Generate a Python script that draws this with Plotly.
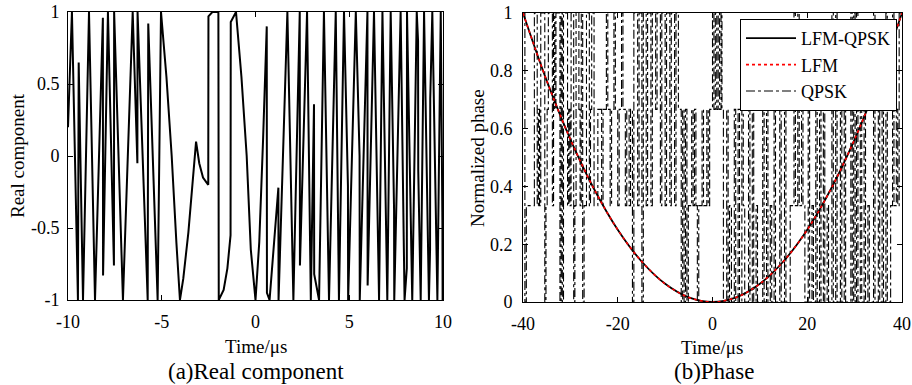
import plotly.graph_objects as go

# ---------------- data ----------------
# (a) real component: vertices of the waveform (time in us, value)
real_t = [-10.00, -9.79, -9.47, -9.43, -9.20, -8.88, -8.56, -8.14, -8.13, -7.87,
          -7.55, -7.54, -7.07, -6.55, -6.30, -6.29, -5.75, -5.72, -5.22, -5.04,
          -4.75, -4.47, -4.22, -4.03, -3.85, -3.58, -3.17, -3.00, -2.80, -2.52,
          -2.51, -2.30, -1.98, -1.96, -1.70, -1.50, -1.33, -1.32, -1.04, -0.75,
          -0.47, -0.25, 0.00, 0.20, 0.40, 0.60, 0.61, 0.75, 1.22, 1.23,
          1.70, 2.02, 2.36, 2.37, 2.75, 2.95, 3.12, 3.13, 3.39, 3.65,
          3.92, 4.28, 4.45, 4.72, 4.93, 4.94, 5.35, 5.55, 5.56, 5.97,
          5.98, 6.32, 6.59, 6.77, 7.03, 7.21, 7.39, 7.40, 7.74, 7.95,
          8.07, 8.08, 8.36, 8.60, 8.67, 8.68, 8.81, 8.99, 9.25, 9.31,
          9.32, 9.43, 9.70, 9.88, 9.97, 9.98, 10.00]
real_v = [0.20, 1.00, -1.00, 0.65, -1.00, 1.00, -1.00, 0.96, -0.83, 1.00,
          -0.76, 1.00, -1.00, 1.00, -0.05, 1.00, -1.00, 0.92, -1.00, 1.00,
          0.55, 0.00, -0.60, -1.00, -0.85, -0.53, 0.10, -0.05, -0.15, -0.20,
          0.97, 1.00, 1.00, -1.00, -0.93, -0.78, -0.55, 0.93, 1.00, 0.55,
          0.00, -0.65, -1.00, -0.60, 0.10, 0.90, -0.95, -1.00, -0.22, -1.00,
          1.00, -1.00, 1.00, -0.76, 1.00, -1.00, 0.36, -0.82, -1.00, 1.00,
          -1.00, 1.00, -1.00, 1.00, -0.21, -1.00, 1.00, 0.00, -1.00, 1.00,
          -0.90, 1.00, -1.00, 1.00, -1.00, 1.00, -0.37, -1.00, 1.00, -1.00,
          -0.78, 1.00, -1.00, 1.00, 0.80, -0.10, -1.00, 1.00, -1.00, -0.65,
          0.40, 1.00, -1.00, 1.00, -0.50, -1.00, -0.45]

# (b) phase: LFM normalized phase samples
lfm_t = [-40, -35, -30, -25, -20, -15, -10, -5, 0, 5, 10, 15, 20, 25, 30, 35, 40]
lfm_phase = [1.000, 0.766, 0.563, 0.391, 0.250, 0.141, 0.063, 0.016, 0.000,
             0.016, 0.063, 0.141, 0.250, 0.391, 0.563, 0.766, 1.000]

# QPSK phase: change times (us) and the level (0..3, phase = level/3) after each change
qpsk_t = [-40.0, -39.6, -39.3, -37.6,
          -37.0, -36.75, -36.5, -36.25, -35.4, -35.15, -34.9, -34.65,
          -33.8, -33.55, -33.3, -33.05, -32.2, -31.95, -31.7, -31.45,
          -30.6, -30.35, -30.1, -29.85, -29.3, -29.05, -28.8, -28.2, -27.95, -27.7,
          -27.4, -27.1, -26.6, -26.0, -25.75, -25.5, -25.0,
          -24.2, -23.4, -23.1, -22.4, -22.1, -21.6,
          -21.3, -20.8, -20.5, -20.0, -19.7, -19.2, -18.9, -18.4, -18.1, -17.6,
          -17.3, -16.9, -16.6, -15.8, -15.5, -14.9, -14.6, -14.0, -13.7, -13.0,
          -12.7, -12.0, -11.7, -11.0, -10.7, -10.0, -9.7, -9.0, -8.7, -8.0,
          -7.7, -7.2, -6.6, -6.3, -6.0, -5.7, -5.4, -5.1, -4.4, -4.1,
          -3.8, -3.5, -3.2, -2.9, -2.2, -1.9, -1.2, -0.9, -0.6, 0.0,
          0.3, 0.6, 0.9, 1.2, 1.5, 1.8, 2.0, 2.3, 3.0, 3.3,
          3.6, 4.0, 4.6, 4.9, 5.4, 5.7, 6.2, 6.5, 6.8, 7.6,
          7.9, 8.4, 8.7, 9.2, 9.5, 10.6, 10.9, 11.4, 11.7, 12.2,
          12.5, 13.0, 13.3, 14.2, 14.5, 15.2, 15.5, 16.4, 17.2, 17.5,
          18.0, 18.3, 18.8, 19.1, 19.5, 20.2, 20.5, 21.0, 21.3, 21.8,
          22.1, 22.6, 22.9, 23.4, 23.7, 24.2, 24.5, 25.2, 25.5, 26.0,
          26.3, 27.0, 27.3, 27.8, 28.1, 29.2, 29.5, 29.8, 30.1, 30.4,
          30.7, 31.2, 31.5, 32.0, 32.3, 32.8, 33.1, 34.0, 34.3, 35.0,
          35.3, 35.8, 36.1, 36.6, 36.9, 37.6, 38.0, 38.3, 38.8, 39.1,
          39.4, 40.0]
qpsk_lv = [3, 0, 1, 3,
           1, 2, 1, 3, 0, 1, 2, 3,
           1, 3, 2, 3, 0, 3, 0, 3,
           1, 2, 1, 3, 0, 1, 3, 2, 1, 3,
           0, 1, 3, 1, 2, 3, 1,
           2, 1, 2, 3, 2, 1,
           2, 3, 2, 1, 2, 3, 2, 1, 2, 1,
           2, 0, 3, 1, 3, 0, 3, 1, 3, 1,
           3, 2, 3, 1, 3, 1, 3, 1, 3, 1,
           3, 2, 0, 2, 0, 2, 0, 1, 2, 1,
           2, 1, 0, 1, 2, 1, 2, 1, 2, 3,
           2, 3, 2, 3, 2, 3, 2, 0, 2, 0,
           1, 0, 2, 0, 2, 0, 2, 1, 0, 2,
           0, 2, 0, 1, 0, 2, 0, 2, 0, 1,
           0, 2, 0, 2, 0, 2, 0, 1, 3, 1,
           3, 1, 2, 1, 0, 2, 0, 1, 0, 2,
           0, 2, 0, 2, 0, 1, 0, 3, 0, 3,
           0, 2, 0, 2, 0, 3, 0, 3, 0, 3,
           0, 2, 0, 2, 0, 1, 0, 3, 0, 2,
           0, 2, 0, 3, 0, 1, 3, 1, 2, 1,
           3, 3]

left_xticks = [-10, -5, 0, 5, 10]
left_yticks = [-1, -0.5, 0, 0.5, 1]
right_xticks = [-40, -20, 0, 20, 40]
right_yticks = [0, 0.2, 0.4, 0.6, 0.8, 1]

# ---------------- figure ----------------
W, H = 912, 385
FONT = "Liberation Serif, Times New Roman, serif"

qy = [lv / 3 for lv in qpsk_lv]

fig = go.Figure()
fig.add_trace(go.Scatter(x=real_t, y=real_v, mode="lines",
                         line=dict(color="black", width=2),
                         xaxis="x", yaxis="y", showlegend=False))

fig.add_trace(go.Scatter(x=qpsk_t, y=qy, mode="lines", line_shape="hv",
                         line=dict(color="black", width=1.1, dash="dashdot"),
                         xaxis="x2", yaxis="y2", name="QPSK", legendrank=3))
fig.add_trace(go.Scatter(x=lfm_t, y=lfm_phase, mode="lines", line_shape="spline",
                         line=dict(color="black", width=1.8),
                         xaxis="x2", yaxis="y2", name="LFM-QPSK", legendrank=1))
fig.add_trace(go.Scatter(x=lfm_t, y=lfm_phase, mode="lines", line_shape="spline",
                         line=dict(color="red", width=1.6, dash="dot"),
                         xaxis="x2", yaxis="y2", name="LFM", legendrank=2))


def px(x):
    return x / W


def py(y):
    return 1 - y / H


axis_common = dict(showline=True, linecolor="black", linewidth=1, mirror="ticks",
                   ticks="inside", ticklen=5, tickcolor="black", showgrid=False,
                   zeroline=False, automargin=False,
                   tickfont=dict(family=FONT, size=18, color="black"))

fig.update_layout(
    width=W, height=H,
    margin=dict(l=0, r=0, t=0, b=0, autoexpand=False),
    paper_bgcolor="white", plot_bgcolor="white",
    font=dict(family=FONT, size=18, color="black"),
    xaxis=dict(domain=[px(68), px(443)], range=[-10, 10], tickvals=left_xticks,
               ticktext=[str(v) for v in left_xticks], anchor="y",
               ticklabelstandoff=5, **axis_common),
    yaxis=dict(domain=[py(300), py(12)], range=[-1, 1], tickvals=left_yticks,
               ticktext=["-1", "-0.5", "0", "0.5", "1"], anchor="x",
               ticklabelstandoff=4, **axis_common),
    xaxis2=dict(domain=[px(523), px(902)], range=[-40, 40], tickvals=right_xticks,
                ticktext=[str(v) for v in right_xticks], anchor="y2",
                ticklabelstandoff=5, **axis_common),
    yaxis2=dict(domain=[py(302), py(13)], range=[0, 1], tickvals=right_yticks,
                ticktext=["0", "0.2", "0.4", "0.6", "0.8", "1"], anchor="x2",
                ticklabelstandoff=6, **axis_common),
    legend=dict(x=px(897), y=py(19), xanchor="right", yanchor="top",
                bgcolor="white", bordercolor="black", borderwidth=1,
                font=dict(family=FONT, size=18, color="black"),
                tracegroupgap=0, itemwidth=50),
)

ann = [
    dict(text="Time/μs", x=px(256), y=py(346), size=19),
    dict(text="Time/μs", x=px(712), y=py(347), size=19),
    dict(text="(a)Real component", x=px(256), y=py(371), size=23),
    dict(text="(b)Phase", x=px(714), y=py(371), size=23),
    dict(text="Real component", x=px(17), y=py(156), size=19, textangle=-90),
    dict(text="Normalized phase", x=px(477), y=py(158), size=19, textangle=-90),
]
for a in ann:
    size = a.pop("size")
    fig.add_annotation(xref="paper", yref="paper", showarrow=False,
                       xanchor="center", yanchor="middle",
                       font=dict(family=FONT, size=size, color="black"), **a)

fig.write_html("out.html", config={"displayModeBar": False},
               post_script="document.body.style.margin='0';")
